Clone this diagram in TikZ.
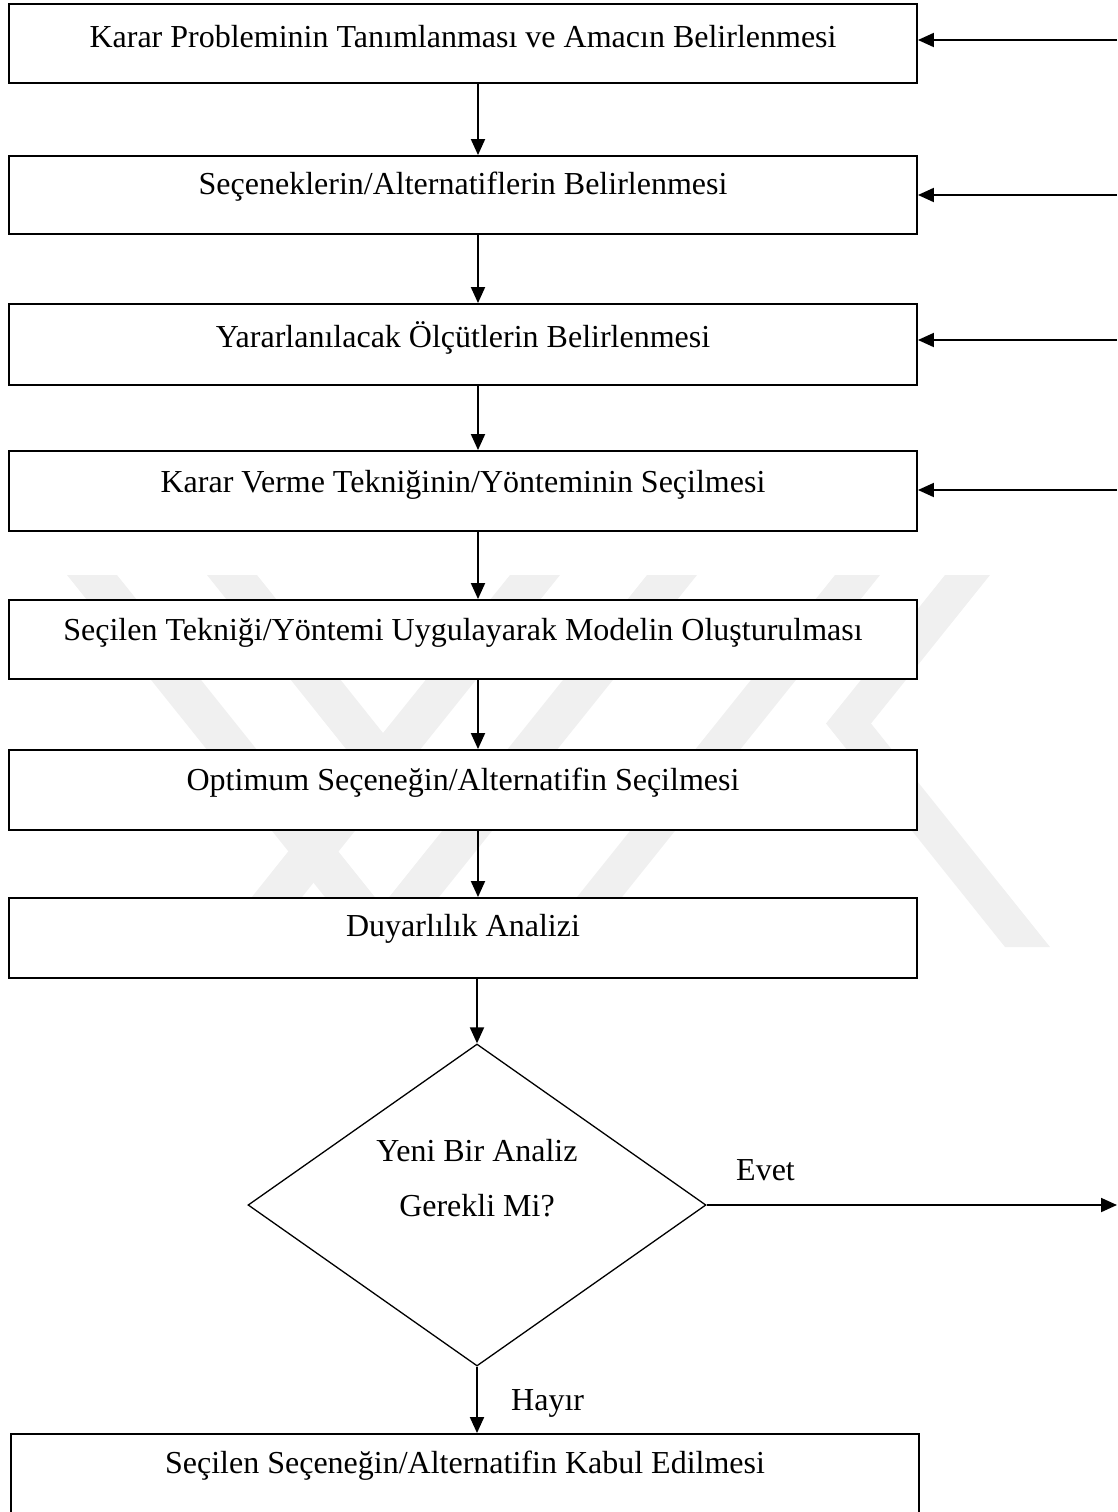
\documentclass[tikz,border=0pt]{standalone}
\usepackage{fontspec}
\setmainfont{Liberation Serif}
\usetikzlibrary{arrows.meta,shapes.geometric}
\begin{document}
\begin{tikzpicture}[x=1pt,y=-1pt,
  stepbox/.style={draw, line width=1.9pt, fill=white, minimum width=908pt, inner sep=0pt},
  lbl/.style={font=\fontsize{32}{38}\selectfont, inner sep=0pt},
  arr/.style={line width=1.9pt, -{Triangle[length=16pt,width=14pt]}},
  decision/.style={diamond, draw, line width=1.3pt, fill=white, aspect=1.42,
                   minimum width=458pt, minimum height=322pt, inner sep=0pt},
  wmark/.style={fill=black!6}
]
\useasboundingbox (0,0) rectangle (1117,1512);
\clip (0,0) rectangle (1117,1512);

% faint background emblem
\fill[wmark] (207,575) -- (257,575) -- (383,733) -- (510,575) -- (560,575)
  -- (262,947) -- (212,947) -- (358,764) -- cycle;
\fill[wmark] (67,575) -- (117,575) -- (382,906) -- (647,575) -- (697,575)
  -- (399,947) -- (349,947) -- (357,937) -- cycle;
\fill[wmark] (835,575) -- (880,575) -- (582,947) -- (537,947) -- cycle;
\fill[wmark] (945,575) -- (990,575) -- (871,723.5) -- (1050,947) -- (1005,947)
  -- (826,723.5) -- cycle;

% process steps
\node[stepbox, minimum height=79pt] (b1) at (463,43.5) {};
\node[stepbox, minimum height=78pt] (b2) at (463,195) {};
\node[stepbox, minimum height=81pt] (b3) at (463,344.5) {};
\node[stepbox, minimum height=80pt] (b4) at (463,491) {};
\node[stepbox, minimum height=79pt] (b5) at (463,639.5) {};
\node[stepbox, minimum height=80pt] (b6) at (463,790) {};
\node[stepbox, minimum height=80pt] (b7) at (463,938) {};
\node[stepbox, minimum height=96pt] (b8) at (465,1482) {};

\node[lbl] (t1) at (463,37) {Karar Probleminin Tanımlanması ve Amacın Belirlenmesi};
\node[lbl] (t2) at (463,187) {Seçeneklerin/Alternatiflerin Belirlenmesi};
\node[lbl] (t3) at (463,338) {Yararlanılacak Ölçütlerin Belirlenmesi};
\node[lbl] (t4) at (463,485) {Karar Verme Tekniğinin/Yönteminin Seçilmesi};
\node[lbl] (t5) at (463,633) {Seçilen Tekniği/Yöntemi Uygulayarak Modelin Oluşturulması};
\node[lbl] (t6) at (463,783) {Optimum Seçeneğin/Alternatifin Seçilmesi};
\node[lbl] (t7) at (463,929) {Duyarlılık Analizi};
\node[lbl] (t8) at (465,1466) {Seçilen Seçeneğin/Alternatifin Kabul Edilmesi};

% decision
\node[decision] (d) at (477,1205) {};
\node[lbl, align=center, font=\fontsize{32}{55}\selectfont] (dq) at (477,1178)
  {Yeni Bir Analiz\\Gerekli Mi?};

% main flow
\coordinate (xl) at (478,0);
\draw[arr] (b1.south -| xl) -- (b2.north -| xl);
\draw[arr] (b2.south -| xl) -- (b3.north -| xl);
\draw[arr] (b3.south -| xl) -- (b4.north -| xl);
\draw[arr] (b4.south -| xl) -- (b5.north -| xl);
\draw[arr] (b5.south -| xl) -- (b6.north -| xl);
\draw[arr] (b6.south -| xl) -- (b7.north -| xl);
\draw[arr] (b7.south -| d.north) -- (d.north);
\draw[arr] (d.south) -- (b8.north -| d.south);

% feedback lines coming in from the right
\coordinate (r1) at (1117,40);
\coordinate (r2) at (1117,195);
\coordinate (r3) at (1117,340);
\coordinate (r4) at (1117,490);
\coordinate (ry) at (1117,1205);
\draw[arr] (r1) -- (r1 -| b1.east);
\draw[arr] (r2) -- (r2 -| b2.east);
\draw[arr] (r3) -- (r3 -| b3.east);
\draw[arr] (r4) -- (r4 -| b4.east);
\draw[arr] (d.east) -- (ry);

\node[lbl, anchor=west] (evet) at (736,1170) {Evet};
\node[lbl, anchor=west] (hayir) at (511,1403) {Hayır};
\end{tikzpicture}
\end{document}
